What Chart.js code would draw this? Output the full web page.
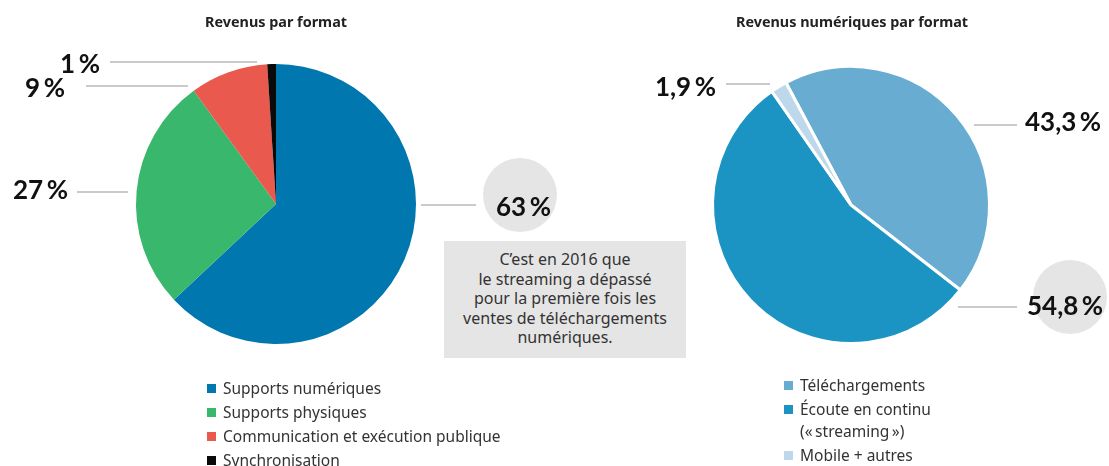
<!DOCTYPE html>
<html lang="fr">
<head>
<meta charset="utf-8">
<title>Revenus par format</title>
<script src="https://cdn.jsdelivr.net/npm/chart.js@4.4.1/dist/chart.umd.min.js"></script>
<style>
  html, body { margin: 0; padding: 0; background: #fff; }
  body { width: 1109px; height: 466px; position: relative; overflow: hidden;
         font-family: "Noto Sans", Lato, sans-serif; color: #222; }
  canvas { position: absolute; left: 0; top: 0; }
  .title { position: absolute; top: 12px; font-weight: 700; font-size: 14.4px;
           transform: translateX(-50%); white-space: nowrap; color: #222; line-height: 20px; }
  .note { position: absolute; left: 444px; top: 241px; width: 242px; height: 117px;
          background: #e5e5e5; box-sizing: border-box; padding-top: 9px;
          text-align: center; font-size: 16px; line-height: 19.5px; color: #333; }
  .legend { position: absolute; font-size: 15.5px; color: #333; }
  .legend .item { position: relative; padding-left: 16px; }
  .legend .sw { position: absolute; left: 0; width: 9px; height: 9px; }
</style>
</head>
<body>
<canvas id="leftPie" width="1109" height="466"></canvas>
<canvas id="rightPie" width="1109" height="466"></canvas>
<div class="title" style="left:276px">Revenus par format</div>
<div class="title" style="left:852px">Revenus numériques par format</div>
<div class="note">C’est en 2016 que<br>le streaming a dépassé<br>pour la première fois les<br>ventes de téléchargements<br>numériques.</div>
<div class="legend" id="leftLegend" style="left:207px;top:376px;width:330px"></div>
<div class="legend" id="rightLegend" style="left:784px;top:374px;width:155px"></div>

<script>
// Revenue share by format (%)
const formatLabels = ['Supports numériques', 'Supports physiques', 'Communication et exécution publique', 'Synchronisation'];
const formatShares = [63, 27, 9, 1];

// Digital revenue share by format (%)
const digitalLabels = ['Téléchargements', 'Écoute en continu («\u202Fstreaming\u202F»)', 'Mobile + autres'];
const digitalShares = [43.3, 54.8, 1.9];

const formatColors = ['#0077ae', '#39b76d', '#e9594d', '#0a0a0a'];
const digitalColors = ['#68acd2', '#1b94c4', '#bdd8ea'];

function numText(v) {
  return String(v).replace('.', ',');
}

// Draws the leader lines, highlight discs and percentage labels for each slice
const calloutPlugin = {
  id: 'callouts',
  afterDraw(chart, args, opts) {
    const ctx = chart.ctx;
    const values = chart.data.datasets[0].data;
    ctx.save();
    opts.items.forEach(it => {
      if (it.disc) {
        ctx.fillStyle = '#e5e5e5';
        ctx.beginPath();
        ctx.arc(it.disc.x, it.disc.y, it.disc.r, 0, Math.PI * 2);
        ctx.fill();
      }
      ctx.strokeStyle = '#b9b9b9';
      ctx.lineWidth = 1.5;
      ctx.beginPath();
      ctx.moveTo(it.line[0], it.line[2]);
      ctx.lineTo(it.line[1], it.line[2]);
      ctx.stroke();

      // number and percent sign with a thin gap between them
      ctx.fillStyle = '#111';
      ctx.font = '700 26px Lato, "Noto Sans", sans-serif';
      ctx.textBaseline = 'alphabetic';
      ctx.textAlign = 'left';
      const num = numText(values[it.index]);
      const gap = 3.5;
      const wNum = ctx.measureText(num).width;
      const wPct = ctx.measureText('%').width;
      const total = wNum + gap + wPct;
      const x0 = it.align === 'right' ? it.x - total : it.x;
      ctx.fillText(num, x0, it.y);
      ctx.fillText('%', x0 + wNum + gap, it.y);
    });
    ctx.restore();
  }
};

function makePie(id, labels, data, colors, cfg) {
  return new Chart(document.getElementById(id), {
    type: 'pie',
    data: {
      labels: labels,
      datasets: [{
        data: data,
        backgroundColor: colors,
        borderColor: '#ffffff',
        borderWidth: cfg.border
      }]
    },
    options: {
      responsive: false,
      animation: false,
      events: [],
      rotation: cfg.rotation,
      layout: { padding: cfg.padding },
      plugins: {
        legend: { display: false },
        tooltip: { enabled: false },
        callouts: { items: cfg.callouts }
      }
    },
    plugins: [calloutPlugin]
  });
}

makePie('leftPie', formatLabels, formatShares, formatColors, {
  border: 0,
  rotation: 0,
  padding: { left: 136, right: 693, top: 64, bottom: 122 },
  callouts: [
    { index: 0, align: 'left',  x: 496, y: 216, line: [421, 476, 205], disc: { x: 520, y: 195, r: 37 } },
    { index: 1, align: 'right', x: 68,  y: 199, line: [77, 128, 192] },
    { index: 2, align: 'right', x: 65,  y: 97,  line: [86, 188, 86] },
    { index: 3, align: 'right', x: 100, y: 73,  line: [110, 257, 62] }
  ]
});

makePie('rightPie', digitalLabels, digitalShares, digitalColors, {
  border: 3,
  rotation: -28,
  padding: { left: 711, right: 118, top: 65, bottom: 121 },
  callouts: [
    { index: 0, align: 'left',  x: 1025, y: 131, line: [974, 1017, 125] },
    { index: 1, align: 'left',  x: 1027, y: 315, line: [958, 1017, 307], disc: { x: 1070, y: 297, r: 37 } },
    { index: 2, align: 'right', x: 716,  y: 96,  line: [726, 770, 84] }
  ]
});

// HTML legends built from the same label and colour arrays
function buildLegend(elId, labels, colors, lineHeight, gap) {
  const el = document.getElementById(elId);
  labels.forEach((label, i) => {
    const item = document.createElement('div');
    item.className = 'item';
    item.style.lineHeight = lineHeight + 'px';
    item.style.marginBottom = gap + 'px';
    const sw = document.createElement('span');
    sw.className = 'sw';
    sw.style.background = colors[i];
    sw.style.top = ((lineHeight - 9) / 2) + 'px';
    item.appendChild(sw);
    item.appendChild(document.createTextNode(label));
    el.appendChild(item);
  });
}
buildLegend('leftLegend', formatLabels, formatColors, 24, 0);
buildLegend('rightLegend', digitalLabels, digitalColors, 22, 2);
</script>
</body>
</html>
